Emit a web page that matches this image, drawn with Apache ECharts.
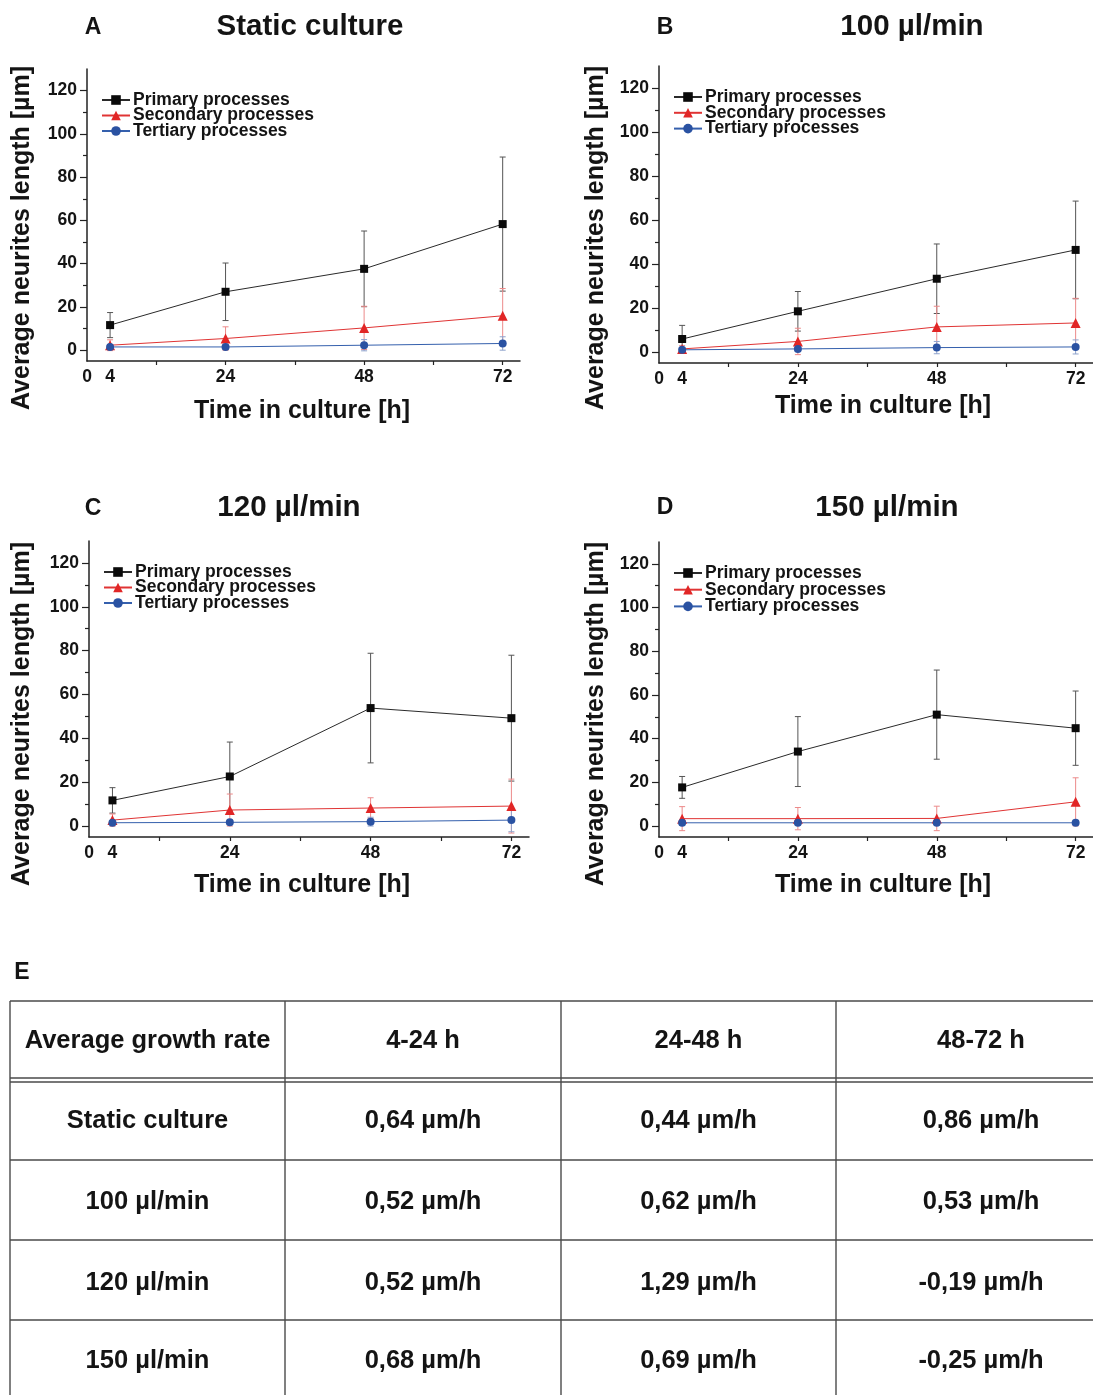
<!DOCTYPE html>
<html>
<head>
<meta charset="utf-8">
<script src="https://cdn.jsdelivr.net/npm/echarts@6/dist/echarts.min.js"></script>
<style>
  html, body { margin: 0; padding: 0; background: #fff; }
  #chart { width: 1093px; height: 1395px; }
</style>
</head>
<body>
<div id="chart"></div>
<script>
var hours = [4, 24, 48, 72];
var xTickLabels = [0, 4, 24, 48, 72];
var xTicks = [12, 24, 36, 48, 60, 72];
var yTickLabels = [0, 20, 40, 60, 80, 100, 120];
var yMinorTicks = [10, 30, 50, 70, 90, 110];
var seriesNames = ['Primary processes', 'Secondary processes', 'Tertiary processes'];
var panelLetters = ['A', 'B', 'C', 'D'];
var conditions = ['Static culture', '100 µl/min', '120 µl/min', '150 µl/min'];

// A - static culture
var staticPrimary = [11.6, 27.0, 37.6, 58.3];
var staticPrimarySd = [5.8, 13.3, 17.5, 31.0];
var staticSecondary = [2.3, 5.4, 10.3, 15.9];
var staticSecondarySd = [2.5, 5.4, 10.0, 12.6];
var staticTertiary = [1.5, 1.5, 2.3, 3.1];
var staticTertiarySd = [1.0, 1.0, 2.6, 3.1];

// B - 100 ul/min
var flow100Primary = [5.9, 18.5, 33.3, 46.4];
var flow100PrimarySd = [6.2, 9.0, 15.8, 22.2];
var flow100Secondary = [1.4, 4.8, 11.4, 13.2];
var flow100SecondarySd = [1.5, 6.0, 9.4, 11.2];
var flow100Tertiary = [1.0, 1.4, 2.0, 2.3];
var flow100TertiarySd = [1.0, 1.2, 2.8, 3.2];

// C - 120 ul/min
var flow120Primary = [11.7, 22.6, 53.8, 49.2];
var flow120PrimarySd = [5.8, 15.7, 25.0, 28.7];
var flow120Secondary = [2.7, 7.3, 8.2, 9.1];
var flow120SecondarySd = [2.8, 7.3, 4.7, 12.3];
var flow120Tertiary = [1.5, 1.7, 2.0, 2.7];
var flow120TertiarySd = [1.0, 1.0, 2.0, 5.3];

// D - 150 ul/min
var flow150Primary = [17.7, 34.1, 51.0, 44.8];
var flow150PrimarySd = [5.0, 16.0, 20.4, 17.0];
var flow150Secondary = [3.4, 3.4, 3.5, 11.1];
var flow150SecondarySd = [5.5, 5.1, 5.6, 11.0];
var flow150Tertiary = [1.5, 1.5, 1.5, 1.5];
var flow150TertiarySd = [1.2, 1.0, 1.0, 0.5];

// E - table
var tableHeader = ['Average growth rate', '4-24 h', '24-48 h', '48-72 h'];
var rateStatic = [0.64, 0.44, 0.86];
var rate100 = [0.52, 0.62, 0.53];
var rate120 = [0.52, 1.29, -0.19];
var rate150 = [0.68, 0.69, -0.25];

var FONT = '"Liberation Sans", Arial, Helvetica, sans-serif';
var INK = '#141414';

var panels = [
  { means: [staticPrimary, staticSecondary, staticTertiary], sds: [staticPrimarySd, staticSecondarySd, staticTertiarySd],
    grid: { left: 87, top: 69, width: 433, height: 292 }, letter: [93, 28], title: [310, 27],
    yName: [22, 238], xName: [302, 411], legend: [101, 91, -2.5] },
  { means: [flow100Primary, flow100Secondary, flow100Tertiary], sds: [flow100PrimarySd, flow100SecondarySd, flow100TertiarySd],
    grid: { left: 659, top: 66, width: 440, height: 297 }, letter: [665, 28], title: [912, 27],
    yName: [596, 238], xName: [883, 406], legend: [673, 88, -2.2] },
  { means: [flow120Primary, flow120Secondary, flow120Tertiary], sds: [flow120PrimarySd, flow120SecondarySd, flow120TertiarySd],
    grid: { left: 89, top: 541, width: 440, height: 296 }, letter: [93, 509], title: [289, 508],
    yName: [22, 714], xName: [302, 885], legend: [103, 563, -2.5] },
  { means: [flow150Primary, flow150Secondary, flow150Tertiary], sds: [flow150PrimarySd, flow150SecondarySd, flow150TertiarySd],
    grid: { left: 659, top: 542, width: 440, height: 295 }, letter: [665, 508], title: [887, 508],
    yName: [596, 714], xName: [883, 885], legend: [673, 564, -1.3] }
];

var lineColors = ['#2a2a2a', '#e03434', '#3560ad'];
var markerColors = ['#0a0a0a', '#e12626', '#2a52a2'];
var errColors = ['#555555', '#ec8a8a', '#8ea2cc'];
var symbols = ['rect', 'triangle', 'circle'];
var symbolSizes = [8, 10, 8];

function txt(x, y, text, size, rot) {
  return {
    type: 'text', x: x, y: y, rotation: rot || 0,
    style: { text: text, fontSize: size, fontWeight: 'bold', fontFamily: FONT, fill: INK,
      align: 'center', verticalAlign: 'middle', textAlign: 'center', textVerticalAlign: 'middle' }
  };
}

var grids = [], xAxes = [], yAxes = [], series = [], legends = [], graphics = [];

panels.forEach(function (p, g) {
  grids.push(p.grid);
  xAxes.push({
    type: 'value', gridIndex: g, min: 0, max: 75,
    axisLine: { onZero: false, lineStyle: { color: '#222', width: 1.5 } },
    axisTick: { customValues: xTicks, length: 4, lineStyle: { color: '#222', width: 1.2 } },
    axisLabel: { customValues: xTickLabels, fontSize: 17.5, fontWeight: 'bold', color: INK, fontFamily: FONT, margin: 7 },
    splitLine: { show: false }
  });
  // major ticks + labels
  yAxes.push({
    type: 'value', gridIndex: g, min: -5, max: 130, position: 'left',
    axisLine: { show: true, onZero: false, lineStyle: { color: '#222', width: 1.5 } },
    axisTick: { customValues: yTickLabels, length: 7, lineStyle: { color: '#222', width: 1.2 } },
    axisLabel: { customValues: yTickLabels, fontSize: 17.5, fontWeight: 'bold', color: INK, fontFamily: FONT, margin: 10 },
    splitLine: { show: false }
  });
  // minor ticks only
  yAxes.push({
    type: 'value', gridIndex: g, min: -5, max: 130, position: 'left',
    axisLine: { show: false, onZero: false },
    axisTick: { customValues: yMinorTicks, length: 4, lineStyle: { color: '#222', width: 1.2 } },
    axisLabel: { show: false },
    splitLine: { show: false }
  });

  seriesNames.forEach(function (name, s) {
    var means = p.means[s], sds = p.sds[s], ec = errColors[s];
    series.push({
      type: 'custom', name: panelLetters[g] + ' error ' + s,
      xAxisIndex: g, yAxisIndex: g * 2, silent: true, z: 1,
      data: hours.map(function (h, i) { return [h, means[i] - sds[i], means[i] + sds[i]]; }),
      encode: { x: 0, y: [1, 2] },
      renderItem: function (params, api) {
        var x = api.value(0);
        var lo = api.coord([x, api.value(1)]);
        var hi = api.coord([x, api.value(2)]);
        var w = 3;
        var st = { stroke: ec, lineWidth: 1 };
        return {
          type: 'group',
          children: [
            { type: 'line', shape: { x1: lo[0], y1: lo[1], x2: hi[0], y2: hi[1] }, style: st },
            { type: 'line', shape: { x1: lo[0] - w, y1: lo[1], x2: lo[0] + w, y2: lo[1] }, style: st },
            { type: 'line', shape: { x1: hi[0] - w, y1: hi[1], x2: hi[0] + w, y2: hi[1] }, style: st }
          ]
        };
      }
    });
    series.push({
      type: 'line', name: name, xAxisIndex: g, yAxisIndex: g * 2, z: 3,
      data: hours.map(function (h, i) { return [h, means[i]]; }),
      symbol: symbols[s], symbolSize: symbolSizes[s], showSymbol: true,
      lineStyle: { color: lineColors[s], width: 1 },
      itemStyle: { color: markerColors[s] },
      animation: false
    });
  });

  legends.push({
    orient: 'vertical', left: p.legend[0], top: p.legend[1], padding: 0, itemGap: p.legend[2],
    itemWidth: 28, itemHeight: 12, selectedMode: false, data: seriesNames,
    textStyle: { fontSize: 17.5, fontWeight: 'bold', color: INK, fontFamily: FONT, padding: [0, 0, 0, -2] }
  });

  graphics.push(txt(p.letter[0], p.letter[1], panelLetters[g], 23));
  graphics.push(txt(p.title[0], p.title[1], conditions[g], 29.5));
  graphics.push(txt(p.yName[0], p.yName[1], 'Average neurites length [µm]', 25, Math.PI / 2));
  graphics.push(txt(p.xName[0], p.xName[1], 'Time in culture [h]', 25));
});

// table E
graphics.push(txt(22, 973, 'E', 23));
var colX = [10, 285, 561, 836, 1126];
var rowLines = [1001, 1078, 1082, 1160, 1240, 1320];
var lineStyle = { stroke: '#4a4a4a', lineWidth: 1.4 };
rowLines.forEach(function (y) {
  graphics.push({ type: 'line', shape: { x1: colX[0], y1: y, x2: 1093, y2: y }, style: lineStyle });
});
colX.slice(0, 4).forEach(function (x) {
  graphics.push({ type: 'line', shape: { x1: x, y1: 1001, x2: x, y2: 1395 }, style: lineStyle });
});
var rowCenters = [1041, 1121, 1202, 1283, 1361];
tableHeader.forEach(function (h, c) {
  graphics.push(txt((colX[c] + colX[c + 1]) / 2, rowCenters[0], h, 25.5));
});
[rateStatic, rate100, rate120, rate150].forEach(function (rates, r) {
  graphics.push(txt((colX[0] + colX[1]) / 2, rowCenters[r + 1], conditions[r], 25.5));
  rates.forEach(function (v, c) {
    var label = v.toFixed(2).replace('.', ',') + ' µm/h';
    graphics.push(txt((colX[c + 1] + colX[c + 2]) / 2, rowCenters[r + 1], label, 25.5));
  });
});

var myChart = echarts.init(document.getElementById('chart'));
myChart.setOption({
  backgroundColor: '#ffffff',
  animation: false,
  textStyle: { fontFamily: FONT },
  grid: grids,
  xAxis: xAxes,
  yAxis: yAxes,
  legend: legends,
  series: series,
  graphic: graphics
});
</script>
</body>
</html>
